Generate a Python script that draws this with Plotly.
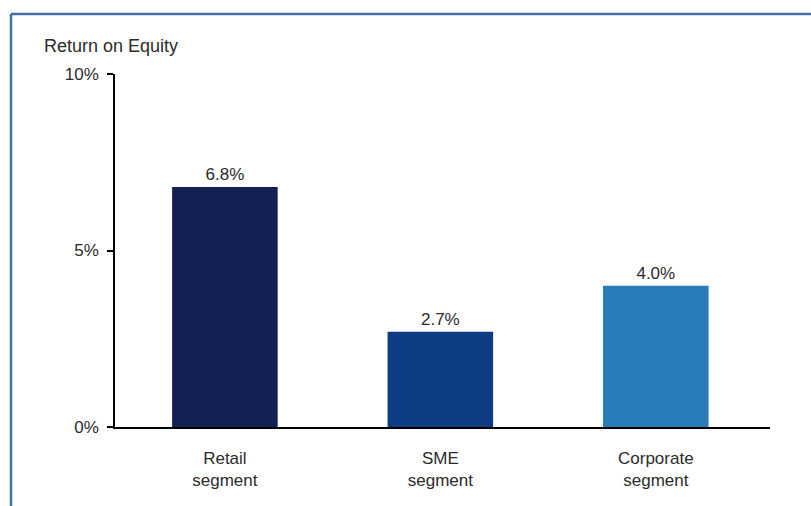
import plotly.graph_objects as go

# Return on equity by business segment
categories = ["Retail<br>segment", "SME<br>segment", "Corporate<br>segment"]
roe_values = [6.8, 2.7, 4.0]
bar_colors = ["#142152", "#0e3c83", "#2a7cb8"]
y_ticks = [0, 5, 10]
y_tick_labels = ["0%", "5%", "10%"]

W, H = 811, 506
L, R, T, B = 115, 41, 74, 79
font_family = "Liberation Sans, Arial, sans-serif"
text_color = "#2b2b2b"

x_pos = list(range(len(categories)))

fig = go.Figure()
fig.add_trace(go.Bar(
    x=x_pos,
    y=roe_values,
    marker=dict(color=bar_colors, line=dict(width=0)),
    width=0.49,
    text=[f"{v:.1f}%" for v in roe_values],
    textposition="outside",
    textfont=dict(family=font_family, size=17, color=text_color),
    cliponaxis=False,
    hoverinfo="skip",
))

# Helpers to place frame lines in paper coordinates
pw, ph = W - L - R, H - T - B
def px_x(px):
    return (px - L) / pw
def px_y(py):
    return (H - B - py) / ph

frame_color = "#4570a6"
fig.add_shape(type="line", xref="paper", yref="paper",
              x0=px_x(11), x1=px_x(W + 5), y0=px_y(14), y1=px_y(14),
              line=dict(color=frame_color, width=2.5))
fig.add_shape(type="line", xref="paper", yref="paper",
              x0=px_x(11), x1=px_x(11), y0=px_y(14), y1=px_y(H + 5),
              line=dict(color=frame_color, width=2.5))

fig.add_annotation(
    text="Return on Equity", xref="paper", yref="paper",
    x=px_x(42), y=px_y(46), xanchor="left", yanchor="middle",
    showarrow=False,
    font=dict(family=font_family, size=18, color=text_color),
)

fig.update_layout(
    width=W, height=H,
    margin=dict(l=L, r=R, t=T, b=B),
    paper_bgcolor="white", plot_bgcolor="white",
    showlegend=False,
    bargap=0.5,
)
fig.update_xaxes(
    range=[-0.51, 2.53],
    tickvals=x_pos, ticktext=categories,
    ticks="outside", ticklen=15, tickcolor="rgba(0,0,0,0)",
    showline=True, linecolor="black", linewidth=1.5,
    showgrid=False, zeroline=False,
    tickfont=dict(family=font_family, size=17, color=text_color),
    fixedrange=True,
)
fig.update_yaxes(
    range=[0, 10],
    tickvals=y_ticks, ticktext=y_tick_labels,
    ticks="outside", ticklen=6, tickcolor="black", tickwidth=1.5,
    ticklabelstandoff=5,
    showline=True, linecolor="black", linewidth=1.5,
    showgrid=False, zeroline=False,
    tickfont=dict(family=font_family, size=17, color=text_color),
    fixedrange=True,
)

fig.write_html("out.html")
